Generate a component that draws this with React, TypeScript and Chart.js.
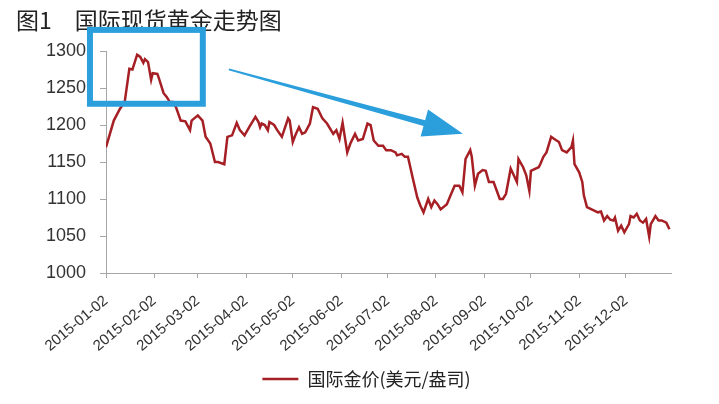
import {useEffect, useRef} from "react";
import {Chart, registerables} from "chart.js";

Chart.register(...registerables);

// days counted from 2015-01-02, gold price (USD/oz)
const days = [
    0, 5, 9, 12, 15, 17, 20, 22, 24, 25, 27, 29, 30, 33, 34, 37, 39, 41, 43, 45,
    48, 51, 54, 55, 59, 62, 64, 67, 70, 72, 76, 78, 81, 84, 86, 89, 92, 96, 98, 99,
    100, 102, 104, 105, 108, 110, 113, 117, 118, 120, 122, 124, 126, 128, 131, 133, 136, 139, 142, 146,
    148, 150, 152, 155, 157, 160, 162, 165, 168, 170, 172, 175, 178, 180, 183, 186, 187, 190, 192, 194,
    197, 200, 202, 204, 207, 209, 211, 213, 215, 219, 222, 224, 227, 229, 231, 234, 235, 237, 239, 242,
    244, 246, 249, 253, 255, 257, 260, 262, 264, 265, 268, 270, 272, 273, 276, 278, 279, 281, 283, 286,
    288, 291, 293, 296, 299, 300, 301, 304, 306, 307, 309, 312, 314, 316, 318, 320, 322, 324, 326, 327,
    329, 331, 333, 336, 337, 339, 341, 343, 345, 347, 349, 350, 353, 355, 357, 360, 362,
];
const prices = [
    1170, 1206, 1222, 1231, 1276, 1275, 1295, 1292, 1284, 1289, 1285, 1261, 1270, 1269, 1263, 1243, 1238, 1231, 1231, 1224,
    1206, 1205, 1193, 1206, 1213, 1206, 1184, 1175, 1150, 1150, 1147, 1184, 1186, 1203, 1193, 1186, 1197, 1211, 1204, 1197,
    1202, 1200, 1193, 1204, 1200, 1193, 1184, 1209, 1206, 1177, 1188, 1197, 1188, 1190, 1202, 1224, 1222, 1209, 1202, 1188,
    1193, 1181, 1203, 1163, 1175, 1188, 1179, 1181, 1202, 1200, 1179, 1172, 1172, 1166, 1166, 1163, 1159, 1161, 1157, 1157,
    1129, 1102, 1091, 1082, 1100, 1089, 1098, 1093, 1086, 1093, 1108, 1118, 1118, 1109, 1154, 1166, 1157, 1118, 1134, 1139,
    1138, 1123, 1123, 1100, 1100, 1107, 1141, 1132, 1123, 1154, 1143, 1132, 1111, 1138, 1141, 1143, 1147, 1157, 1163, 1184,
    1181, 1177, 1166, 1163, 1170, 1179, 1147, 1136, 1123, 1105, 1089, 1086, 1084, 1082, 1083, 1071, 1077, 1072, 1071, 1075,
    1057, 1064, 1055, 1066, 1077, 1075, 1080, 1071, 1068, 1073, 1049, 1066, 1077, 1071, 1071, 1068, 1059,
];

const tickDays = [0, 31, 59, 90, 120, 151, 181, 212, 243, 273, 304, 334];
const tickLabels = [
    "2015-01-02", "2015-02-02", "2015-03-02", "2015-04-02", "2015-05-02", "2015-06-02",
    "2015-07-02", "2015-08-02", "2015-09-02", "2015-10-02", "2015-11-02", "2015-12-02",
];

// highlight box and trend arrow, in data units
const boxCorners = [[-10.3, 1328.5], [62.2, 1228.7]];
const arrowEnds = [[78.9, 1275.2], [229.3, 1188.3]];

const BLUE = "#2b9fdc";
const LEGEND_SHIFT = 23;

const annotations = {
    id: "annotations",
    afterLayout(chart: any) {
        // legend sits a bit right of centre in the original
        if (chart.legend) {
            chart.legend.left += LEGEND_SHIFT;
            chart.legend.right += LEGEND_SHIFT;
        }
    },
    afterDraw(chart: any) {
        const {ctx, scales: {x, y}} = chart;
        ctx.save();
        // box
        const x0 = x.getPixelForValue(boxCorners[0][0]);
        const y0 = y.getPixelForValue(boxCorners[0][1]);
        const x1 = x.getPixelForValue(boxCorners[1][0]);
        const y1 = y.getPixelForValue(boxCorners[1][1]);
        ctx.strokeStyle = BLUE;
        ctx.lineWidth = 6;
        ctx.strokeRect(x0, y0, x1 - x0, y1 - y0);

        // arrow, tapered shaft + head
        const ax = x.getPixelForValue(arrowEnds[0][0]);
        const ay = y.getPixelForValue(arrowEnds[0][1]);
        const bx = x.getPixelForValue(arrowEnds[1][0]);
        const by = y.getPixelForValue(arrowEnds[1][1]);
        const len = Math.hypot(bx - ax, by - ay);
        const ux = (bx - ax) / len, uy = (by - ay) / len;
        const nx = -uy, ny = ux;
        const headLen = 40, headHalf = 14;
        const hx = bx - ux * headLen, hy = by - uy * headLen;
        ctx.fillStyle = BLUE;
        ctx.beginPath();
        ctx.moveTo(ax + nx * 1, ay + ny * 1);
        ctx.lineTo(hx + nx * 3, hy + ny * 3);
        ctx.lineTo(hx + nx * headHalf, hy + ny * headHalf);
        ctx.lineTo(bx, by);
        ctx.lineTo(hx - nx * headHalf, hy - ny * headHalf);
        ctx.lineTo(hx - nx * 3, hy - ny * 3);
        ctx.lineTo(ax - nx * 1, ay - ny * 1);
        ctx.closePath();
        ctx.fill();
        ctx.restore();
    },
};

const GoldChart = () => {
    const canvasRef = useRef<HTMLCanvasElement>(null);

    useEffect(() => {
        if (!canvasRef.current) return;
        const ctx = canvasRef.current.getContext("2d");
        if (!ctx) return;

        const chart = new Chart(ctx, {
            type: "line",
            data: {
                datasets: [
                    {
                        label: "国际金价(美元/盎司)",
                        data: days.map((d, i) => ({x: d, y: prices[i]})),
                        borderColor: "#a51f24",
                        backgroundColor: "#a51f24",
                        borderWidth: 2.5,
                        pointRadius: 0,
                        tension: 0,
                    },
                ],
            },
            options: {
                animation: false,
                responsive: true,
                maintainAspectRatio: false,
                layout: {padding: {left: 16, right: 48, top: 0, bottom: 6}},
                scales: {
                    x: {
                        type: "linear",
                        min: 0,
                        max: 363,
                        afterBuildTicks: (scale: any) => {
                            scale.ticks = tickDays.map((v) => ({value: v}));
                        },
                        afterFit: (scale: any) => {
                            scale.height = 86;
                            // let the slanted labels run past the axis box
                            scale._computeLabelArea = () => undefined;
                        },
                        ticks: {
                            autoSkip: false,
                            minRotation: 40,
                            maxRotation: 40,
                            padding: 14,
                            color: "#333",
                            font: {family: "Liberation Sans", size: 15},
                            callback: (value: any) => tickLabels[tickDays.indexOf(Number(value))] ?? "",
                        },
                        grid: {display: true, drawOnChartArea: false, tickLength: 5, color: "#a6a6a6"},
                        border: {display: true, color: "#a6a6a6"},
                    },
                    y: {
                        min: 1000,
                        max: 1300,
                        afterFit: (scale: any) => {
                            scale.width = 90;
                        },
                        ticks: {
                            stepSize: 50,
                            padding: 14,
                            color: "#333",
                            font: {family: "Liberation Sans", size: 18},
                            callback: (value: any) => String(value),
                        },
                        grid: {display: true, drawOnChartArea: false, tickLength: 6, color: "#a6a6a6"},
                        border: {display: true, color: "#a6a6a6"},
                    },
                },
                plugins: {
                    title: {
                        display: true,
                        text: "图1　国际现货黄金走势图",
                        align: "start",
                        color: "#222",
                        font: {family: "'Noto Sans CJK SC'", size: 23, weight: "normal"},
                        padding: {top: 6, bottom: 17.4},
                    },
                    legend: {
                        position: "bottom",
                        labels: {
                            usePointStyle: true,
                            pointStyle: "line",
                            pointStyleWidth: 36,
                            color: "#222",
                            padding: 11,
                            font: {family: "'Noto Sans CJK SC'", size: 18},
                        },
                    },
                    tooltip: {enabled: false},
                },
            },
            plugins: [annotations],
        });
        return () => {
            chart.destroy();
        };
    }, []);

    return (
        <div style={{position: "fixed", left: 0, top: 0, width: 719, height: 404, background: "#fff"}}>
            <canvas ref={canvasRef}></canvas>
        </div>
    );
};

export default function App() {
    return <GoldChart/>;
}
